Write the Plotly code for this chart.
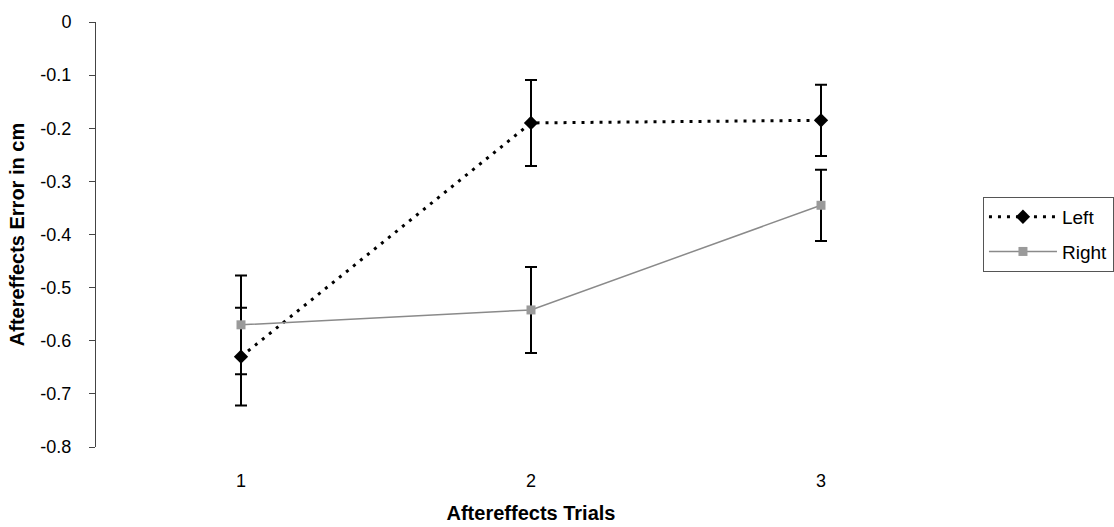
import plotly.graph_objects as go

trials = [1, 2, 3]
trial_labels = ["1", "2", "3"]
left_vals = [-0.63, -0.19, -0.185]
left_err = [0.092, 0.081, 0.067]
right_vals = [-0.57, -0.542, -0.345]
right_err = [0.093, 0.081, 0.067]
y_ticks = [0, -0.1, -0.2, -0.3, -0.4, -0.5, -0.6, -0.7, -0.8]
y_tick_labels = ["0", "-0.1", "-0.2", "-0.3", "-0.4", "-0.5", "-0.6", "-0.7", "-0.8"]

FONT = "Liberation Sans, Arial, sans-serif"

fig = go.Figure()
fig.add_trace(go.Scatter(
    x=trials, y=left_vals, name="Left", mode="lines+markers", legendgroup="l",
    line=dict(color="black", width=3, dash="3px,6px"),
    marker=dict(symbol="diamond", size=11, color="black"),
    error_y=dict(type="data", array=left_err, visible=True, color="black", thickness=2, width=6),
))
fig.add_trace(go.Scatter(
    x=trials, y=right_vals, name="Right", mode="lines+markers", legendgroup="r",
    line=dict(color="#8a8a8a", width=1.5),
    marker=dict(symbol="square", size=9, color="#9a9a9a"),
    error_y=dict(type="data", array=right_err, visible=True, color="black", thickness=2, width=6),
))

fig.update_layout(
    width=1114, height=527,
    margin=dict(l=96, r=148, t=22, b=80, autoexpand=False),
    paper_bgcolor="white", plot_bgcolor="white",
    font=dict(family=FONT, size=18, color="black"),
    showlegend=True,
    legend=dict(
        x=1.0195, xanchor="left", y=0.412, yanchor="bottom",
        bordercolor="#555", borderwidth=1, bgcolor="white",
        font=dict(size=19), traceorder="grouped",
        itemwidth=68, tracegroupgap=7,
    ),
    xaxis=dict(
        range=[0.5, 3.5], tickvals=trials, ticktext=trial_labels,
        showline=False, showgrid=False, zeroline=False,
        ticks="", ticklabelstandoff=21,
        tickfont=dict(size=18),
        title=dict(text="<b>Aftereffects Trials</b>", font=dict(size=20), standoff=15),
    ),
    yaxis=dict(
        range=[-0.8, 0], tickvals=y_ticks, ticktext=y_tick_labels,
        showline=True, linecolor="#444", linewidth=1,
        ticks="outside", ticklen=6, tickcolor="#444",
        showgrid=False, zeroline=False,
        tickfont=dict(size=18), ticklabelstandoff=14,
        title=dict(text="<b>Aftereffects Error in cm</b>", font=dict(size=20), standoff=10),
    ),
)

fig.write_html("out.html", config={"displayModeBar": False},
               post_script="document.body.style.margin='0';")
